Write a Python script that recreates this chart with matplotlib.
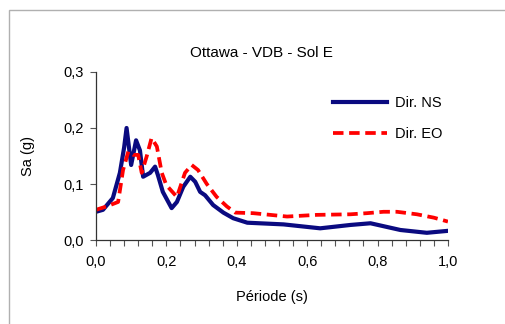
import numpy as np
import matplotlib
matplotlib.use('Agg')
import matplotlib.pyplot as plt
from matplotlib.patches import Rectangle
from matplotlib.ticker import MultipleLocator, FuncFormatter

plt.rcParams['font.family'] = ['Liberation Sans', 'DejaVu Sans']

# spectre Dir. NS
periode_ns = [0.0, 0.02, 0.048, 0.068, 0.08, 0.087, 0.10, 0.114, 0.125, 0.134, 0.154, 0.168,
              0.176, 0.19, 0.215, 0.23, 0.248, 0.268, 0.282, 0.296, 0.31, 0.333, 0.362,
              0.39, 0.43, 0.533, 0.637, 0.723, 0.78, 0.865, 0.94, 1.0]
sa_ns = [0.0505, 0.054, 0.075, 0.12, 0.165, 0.20, 0.134, 0.178, 0.16, 0.113, 0.12, 0.131,
         0.116, 0.086, 0.057, 0.068, 0.095, 0.113, 0.104, 0.086, 0.080, 0.0625, 0.049,
         0.039, 0.031, 0.028, 0.021, 0.027, 0.030, 0.018, 0.013, 0.0165]

# spectre Dir. EO
periode_eo = [0.0, 0.03, 0.063, 0.077, 0.092, 0.106, 0.12, 0.13, 0.144, 0.158, 0.173, 0.187,
              0.20, 0.23, 0.253, 0.272, 0.29, 0.315, 0.343, 0.372, 0.396, 0.447, 0.543,
              0.628, 0.723, 0.77, 0.817, 0.855, 0.912, 0.96, 1.0]
sa_eo = [0.054, 0.06, 0.068, 0.125, 0.158, 0.152, 0.152, 0.12, 0.149, 0.182, 0.167, 0.12,
         0.098, 0.077, 0.12, 0.134, 0.125, 0.10, 0.077, 0.06, 0.049, 0.048, 0.042,
         0.045, 0.046, 0.048, 0.0505, 0.0505, 0.046, 0.040, 0.033]

fig = plt.figure(figsize=(5.05, 3.24), dpi=100)
ax = fig.add_axes([0.190, 0.259, 0.697, 0.519])

# cadre gris du graphique
fig.patches.append(Rectangle((9/505, -0.1), 1.2, 314/324 + 0.1, transform=fig.transFigure,
                             fill=False, edgecolor='#b0b0b0', linewidth=1.0))

ax.plot(periode_ns, sa_ns, color='#0a0a80', linewidth=3.0, label='Dir. NS')
ax.plot(periode_eo, sa_eo, color='#ff0000', linewidth=2.7, dashes=(2.8, 1.5), label='Dir. EO')

ax.set_xlim(0, 1.0)
ax.set_ylim(0, 0.3)
ax.xaxis.set_major_locator(MultipleLocator(0.2))
ax.xaxis.set_minor_locator(MultipleLocator(0.04))
ax.yaxis.set_major_locator(MultipleLocator(0.1))
virgule = FuncFormatter(lambda v, p: f'{v:.1f}'.replace('.', ','))
ax.xaxis.set_major_formatter(virgule)
ax.yaxis.set_major_formatter(virgule)
ax.tick_params(axis='both', which='major', direction='out', length=4, width=0.8,
               labelsize=10.5, color='#555555', pad=5)
ax.tick_params(axis='x', which='major', pad=7)
ax.tick_params(axis='x', which='minor', direction='out', length=4, width=0.8, color='#555555')

for s in ['top', 'right']:
    ax.spines[s].set_visible(False)
for s in ['left', 'bottom']:
    ax.spines[s].set_color('#333333')
    ax.spines[s].set_linewidth(0.9)

ax.set_title('Ottawa - VDB - Sol E', fontsize=11, pad=11, x=0.47)
ax.set_xlabel('Période (s)', fontsize=10.5, labelpad=15)
ax.set_ylabel('Sa (g)', fontsize=10.5, labelpad=20)

ax.legend(loc='upper left', bbox_to_anchor=(0.635, 0.935), frameon=False, fontsize=10.5,
          handlelength=3.7, labelspacing=1.15, handletextpad=0.6)

fig.savefig('out.png', dpi=100)
